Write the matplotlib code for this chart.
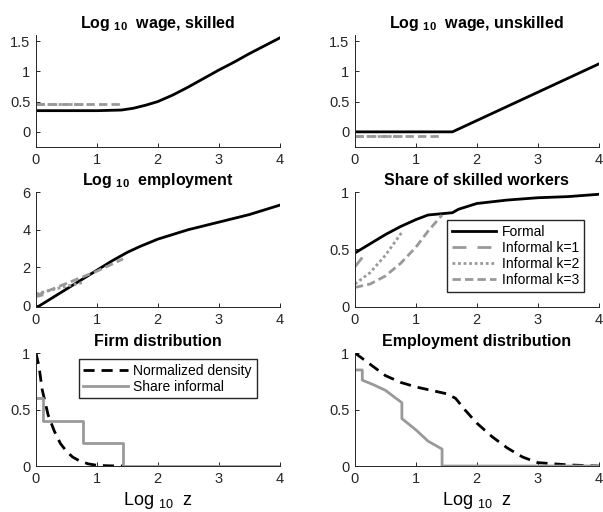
import numpy as np
import matplotlib
matplotlib.use("Agg")
import matplotlib.pyplot as plt
from matplotlib.ticker import FormatStrFormatter

plt.rcParams["font.family"] = ["Liberation Sans", "DejaVu Sans"]
plt.rcParams["mathtext.fontset"] = "custom"
plt.rcParams["mathtext.rm"] = "Liberation Sans"
plt.rcParams["mathtext.bf"] = "Liberation Sans:bold"

# ── data (x is log10 z) ───────────────────────────────────────────────────────
# cutoffs where informal types k=1,2,3 stop existing
cut_k = [0.12, 0.77, 1.43]

# skilled wage
ws_x = [0, 0.5, 1.0, 1.4, 1.6, 1.8, 2.0, 2.25, 2.5, 2.75, 3.0, 3.25, 3.5, 3.75, 4.0]
ws_formal = [0.35, 0.35, 0.35, 0.36, 0.39, 0.44, 0.50, 0.61, 0.74, 0.88, 1.02, 1.15, 1.29, 1.42, 1.55]
ws_informal = 0.46

# unskilled wage
wu_x = [0, 1.6, 4.0]
wu_formal = [0.0, 0.0, 1.12]
wu_informal = -0.07

# employment
emp_x = [0, 0.25, 0.5, 0.75, 1.0, 1.25, 1.5, 1.7, 2.0, 2.5, 3.0, 3.5, 4.0]
emp_formal = [-0.15, 0.35, 0.85, 1.35, 1.85, 2.35, 2.8, 3.1, 3.5, 4.0, 4.4, 4.8, 5.3]
emp_k1_x, emp_k1 = [0, 0.12], [0.45, 0.55]
emp_k2_x, emp_k2 = [0, 0.25, 0.5, 0.77], [0.6, 0.8, 1.0, 1.2]
emp_k3_x, emp_k3 = [0, 0.5, 1.0, 1.43], [0.5, 1.15, 1.8, 2.45]

# share of skilled workers
sh_x = [0, 0.25, 0.5, 0.75, 1.0, 1.2, 1.4, 1.6, 1.7, 2.0, 2.5, 3.0, 3.5, 4.0]
sh_formal = [0.47, 0.55, 0.63, 0.70, 0.76, 0.80, 0.81, 0.82, 0.85, 0.90, 0.93, 0.95, 0.96, 0.98]
sh_k1_x, sh_k1 = [0, 0.12], [0.35, 0.43]
sh_k2_x, sh_k2 = [0, 0.25, 0.5, 0.77], [0.20, 0.30, 0.45, 0.65]
sh_k3_x, sh_k3 = [0, 0.25, 0.5, 0.75, 1.0, 1.2, 1.43], [0.17, 0.20, 0.27, 0.38, 0.52, 0.66, 0.80]

# firm distribution
fd_x = [0, 0.05, 0.1, 0.2, 0.3, 0.4, 0.5, 0.6, 0.7, 0.85, 1.0, 1.2, 1.43]
fd_density = [1.0, 0.88, 0.68, 0.45, 0.31, 0.2, 0.13, 0.08, 0.05, 0.02, 0.006, 0.002, 0.0]
fd_share_x = [0, 0.12, 0.12, 0.77, 0.77, 1.43, 1.43, 4.0]
fd_share = [0.6, 0.6, 0.4, 0.4, 0.2, 0.2, 0.0, 0.0]

# employment distribution
ed_x = [0, 0.25, 0.5, 0.75, 1.0, 1.25, 1.5, 1.65, 1.8, 2.0, 2.25, 2.5, 2.75, 3.0, 3.5, 4.0]
ed_density = [1.0, 0.9, 0.8, 0.74, 0.7, 0.67, 0.64, 0.6, 0.5, 0.38, 0.26, 0.16, 0.08, 0.03, 0.01, 0.0]
ed_share_x = [0, 0.12, 0.12, 0.3, 0.5, 0.77, 0.77, 1.0, 1.2, 1.43, 1.43, 4.0]
ed_share = [0.85, 0.85, 0.76, 0.72, 0.67, 0.56, 0.42, 0.32, 0.22, 0.15, 0.0, 0.0]

# ── styles ────────────────────────────────────────────────────────────────────
GRAY = "#999999"
LW = 2.0
k_styles = [dict(dashes=(5, 4)), dict(dashes=(1, 1)), dict(dashes=(3, 1.5))]
leg_kw = dict(fontsize=10, frameon=True, fancybox=False, edgecolor="#262626",
              framealpha=1, handlelength=3.2, borderpad=0.35, labelspacing=0.15,
              handletextpad=0.4, borderaxespad=0)

fig = plt.figure(figsize=(6.03, 5.12), dpi=100)
lx, rx, w = 0.0597, 0.5887, 0.404
rows = [(0.7129, 0.2188), (0.4004, 0.2246), (0.0898, 0.2207)]
axes = [[fig.add_axes([x, b, w, h]) for x in (lx, rx)] for b, h in rows]


def style(ax, title, ylim, yticks):
    ax.set_xlim(0, 4)
    ax.set_ylim(*ylim)
    ax.set_xticks([0, 1, 2, 3, 4])
    ax.set_yticks(yticks)
    ax.yaxis.set_major_formatter(FormatStrFormatter("%g"))
    for s in ("top", "right"):
        ax.spines[s].set_visible(False)
    for s in ("left", "bottom"):
        ax.spines[s].set_color("#262626")
        ax.spines[s].set_linewidth(0.7)
    ax.tick_params(direction="in", length=3, width=0.7, labelsize=10.5,
                   colors="#262626", pad=4)
    ax.set_title(title, fontsize=11.5, fontweight="bold", pad=5)


# skilled wage
ax = axes[0][0]
ax.plot(ws_x, ws_formal, color="black", lw=LW)
for c, st in zip(cut_k, k_styles):
    ax.plot([0, c], [ws_informal, ws_informal], color=GRAY, lw=LW, **st)
style(ax, r"Log $_{\mathbf{10}}$  wage, skilled", (-0.25, 1.6), [0, 0.5, 1, 1.5])

# unskilled wage
ax = axes[0][1]
ax.plot(wu_x, wu_formal, color="black", lw=LW)
for c, st in zip(cut_k, k_styles):
    ax.plot([0, c], [wu_informal, wu_informal], color=GRAY, lw=LW, **st)
style(ax, r"Log $_{\mathbf{10}}$  wage, unskilled", (-0.25, 1.6), [0, 0.5, 1, 1.5])

# employment
ax = axes[1][0]
ax.plot(emp_x, emp_formal, color="black", lw=LW)
for (xs, ys), st in zip([(emp_k1_x, emp_k1), (emp_k2_x, emp_k2), (emp_k3_x, emp_k3)], k_styles):
    ax.plot(xs, ys, color=GRAY, lw=LW, **st)
style(ax, r"Log $_{\mathbf{10}}$  employment", (-0.1, 6), [0, 2, 4, 6])

# share of skilled workers
ax = axes[1][1]
ax.plot(sh_x, sh_formal, color="black", lw=LW, label="Formal")
labels = ["Informal k=1", "Informal k=2", "Informal k=3"]
for (xs, ys), st, lab in zip([(sh_k1_x, sh_k1), (sh_k2_x, sh_k2), (sh_k3_x, sh_k3)],
                             k_styles, labels):
    ax.plot(xs, ys, color=GRAY, lw=LW, label=lab, **st)
style(ax, "Share of skilled workers", (0, 1), [0, 0.5, 1])
ax.legend(loc="lower right", bbox_to_anchor=(0.94, 0.13), **leg_kw)

# firm distribution
ax = axes[2][0]
ax.plot(fd_x, fd_density, color="black", lw=LW, dashes=(4, 2.5), label="Normalized density")
ax.plot(fd_share_x, fd_share, color=GRAY, lw=LW, label="Share informal")
style(ax, "Firm distribution", (0, 1), [0, 0.5, 1])
ax.set_xlabel(r"Log $_{10}$  z", fontsize=13, labelpad=3)
ax.legend(loc="upper left", bbox_to_anchor=(0.175, 0.95), **leg_kw)

# employment distribution
ax = axes[2][1]
ax.plot(ed_x, ed_density, color="black", lw=LW, dashes=(4, 2.5))
ax.plot(ed_share_x, ed_share, color=GRAY, lw=LW)
style(ax, "Employment distribution", (0, 1), [0, 0.5, 1])
ax.set_xlabel(r"Log $_{10}$  z", fontsize=13, labelpad=3)

fig.savefig("out.png", dpi=100)
